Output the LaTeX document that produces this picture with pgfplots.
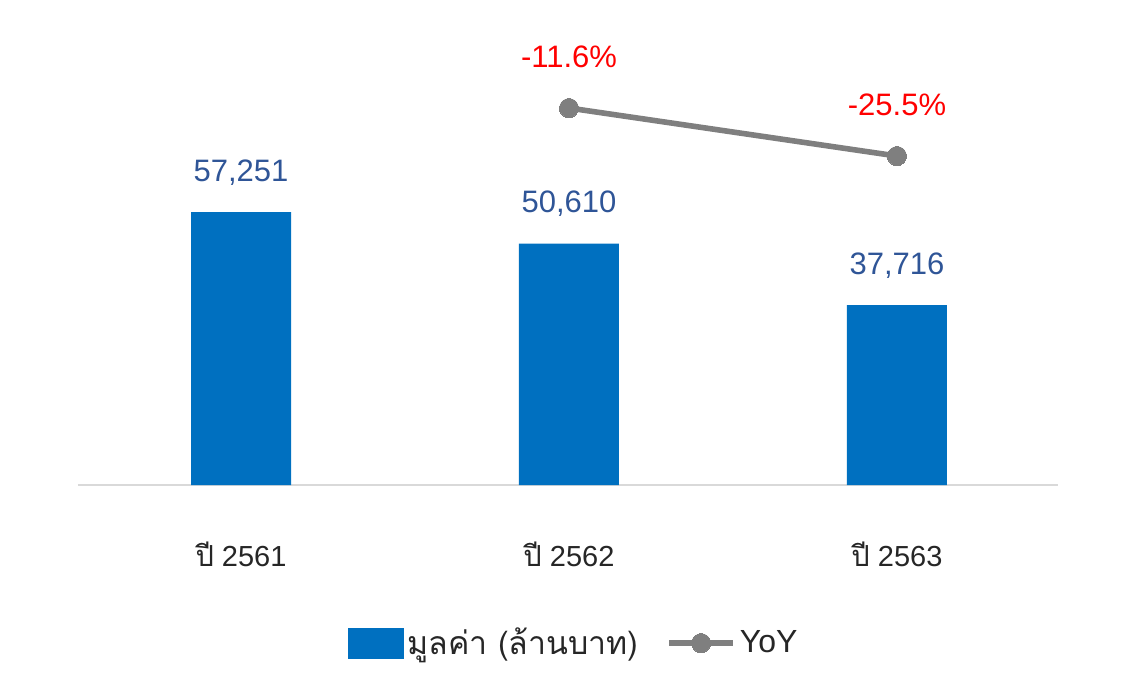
\documentclass[border=0pt]{standalone}
\usepackage{fontspec}
\setmainfont{Liberation Sans}
\newfontfamily\thaifont[Script=Thai]{Loma}
\usepackage{pgfplots}
\pgfplotsset{compat=1.18}
\definecolor{barblue}{HTML}{0070C0}
\definecolor{valblue}{HTML}{2F5597}
\definecolor{linegray}{HTML}{7F7F7F}
\definecolor{axgray}{HTML}{D9D9D9}
\definecolor{pctred}{HTML}{FF0000}
\pgfplotsset{
  lineleg/.style={legend image code/.code={\draw[mark repeat=2,mark phase=2,##1] plot coordinates {(0pt,0pt) (16pt,0pt) (32pt,0pt)};}},
  barleg/.style={legend image code/.code={\fill[barblue] (0pt,-7.5pt) rectangle (27.5pt,7.5pt);}},
}
\begin{document}
\begin{tikzpicture}
\useasboundingbox (-39pt,-106.5pt) rectangle (531.5pt,242.5pt);
\begin{axis}[
  at={(0pt,0pt)}, anchor=south west,
  width=490pt, height=232.5pt, scale only axis,
  xmin=-0.497, xmax=2.491, ymin=0, ymax=97515,
  axis y line=none, axis x line*=bottom,
  x axis line style={-, draw=axgray, line width=1pt},
  xtick={0,1,2}, xtick style={draw=none},
  xticklabels={{{\thaifont ปี} 2561},{{\thaifont ปี} 2562},{{\thaifont ปี} 2563}},
  xticklabel style={font=\fontsize{14.5}{17}\selectfont, anchor=base, yshift=-36.5pt, text=black!85},
  /pgf/number format/assume math mode=true,
  ybar, bar width=50pt,
  nodes near coords={\pgfmathprintnumber[fixed,1000 sep={,}]{\pgfplotspointmeta}},
  every node near coord/.append style={anchor=base, inner sep=0pt, yshift=15.5pt, font=\fontsize{15.5}{18}\selectfont, text=valblue},
]
\addplot[fill=barblue, draw=none] coordinates {(0,57251) (1,50610) (2,37716)};
\end{axis}
\begin{axis}[
  at={(0pt,0pt)}, anchor=south west,
  width=490pt, height=232.5pt, scale only axis,
  xmin=-0.497, xmax=2.491, ymin=-120.78, ymax=13.89,
  hide axis,
  /pgf/number format/assume math mode=true,
  legend columns=2,
  legend style={at={(0.5066,-0.34)}, anchor=center, draw=none, fill=none,
    font=\fontsize{16}{18}\selectfont, text=black!85,
    /tikz/every even column/.append style={column sep=12pt}},
]
\addlegendimage{barleg}
\addlegendentry{{\thaifont มูลค่า (ล้านบาท)}}
\addplot[linegray, line width=2.8pt, mark=*, mark size=4.8pt, mark options={fill=linegray, draw=linegray, line width=0pt},
  nodes near coords={\pgfmathprintnumber[fixed,precision=1,fixed zerofill]{\pgfplotspointmeta}\%},
  every node near coord/.append style={anchor=base, inner sep=0pt, yshift=20.5pt, font=\fontsize{15.5}{18}\selectfont, text=pctred},
  lineleg
] coordinates {(1,-11.6) (2,-25.5)};
\addlegendentry{YoY}
\end{axis}
\end{tikzpicture}
\end{document}
